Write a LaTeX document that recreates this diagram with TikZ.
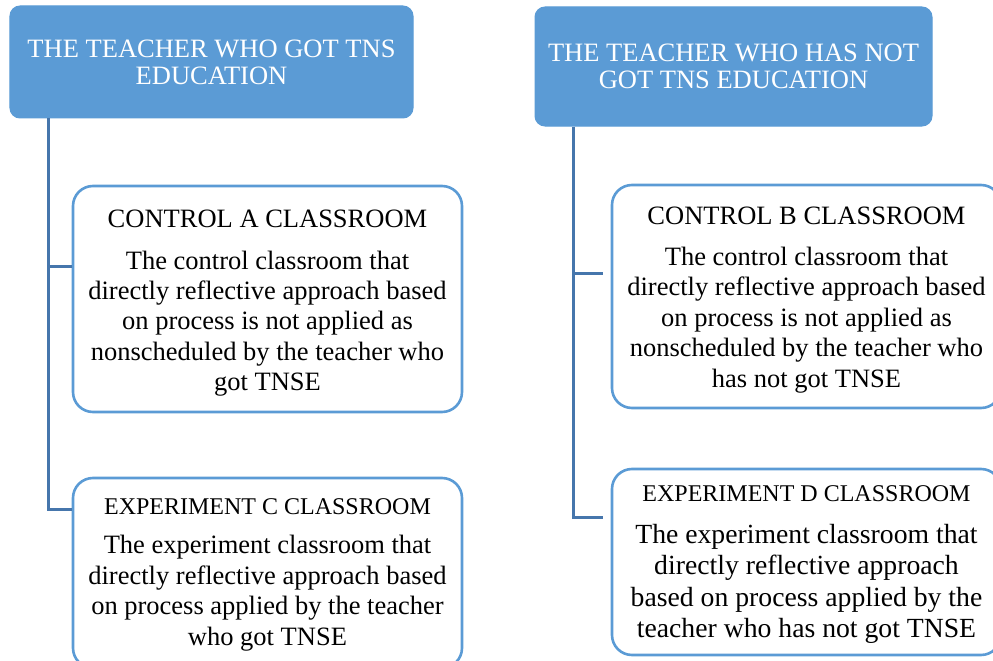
\documentclass[tikz,border=0pt]{standalone}
\usepackage{fontspec}
\setmainfont{Liberation Serif}
\definecolor{hdrblue}{RGB}{91,155,213}
\definecolor{bordblue}{RGB}{91,155,213}
\definecolor{connblue}{RGB}{70,118,172}
\tikzset{
  hdrbox/.style={draw=hdrblue, fill=hdrblue, line width=1bp, rounded corners=10bp, inner sep=0pt},
  classbox/.style={draw=bordblue, fill=white, line width=2.6bp, rounded corners=20bp, inner sep=0pt},
  connline/.style={draw=connblue, line width=3bp},
  hdrtext/.style={inner sep=0pt, align=center, text=white, font=\fontsize{26.5bp}{27bp}\selectfont},
  ttlbig/.style={inner sep=0pt, font=\fontsize{26.5bp}{30bp}\selectfont},
  ttlsmall/.style={inner sep=0pt, font=\fontsize{24bp}{30bp}\selectfont},
  bodytext/.style={inner sep=0pt, align=center},
}
\begin{document}
\begin{tikzpicture}[x=1bp,y=-1bp]
\useasboundingbox (0,0) rectangle (993,661);
\clip (0,0) rectangle (993,661);
% header boxes
\node (hL) [hdrbox, minimum width=403bp, minimum height=112bp] at (211.5,62) {};
\node (hR) [hdrbox, minimum width=397bp, minimum height=119bp] at (733.5,66.5) {};
% class boxes
\node (ca) [classbox, minimum width=389bp, minimum height=226bp] at (267.5,299) {};
\node (ec) [classbox, minimum width=389bp, minimum height=190bp] at (267.5,573) {};
\node (cb) [classbox, minimum width=389bp, minimum height=223bp] at (806.5,296.5) {};
\node (ed) [classbox, minimum width=389bp, minimum height=186bp] at (806.5,562) {};
% connectors
\coordinate (jl) at (48,0);
\coordinate (jr) at (573,0);
\draw[connline] (hL.south -| jl) |- (ec.west |- 0,509);
\draw[connline] (jl |- 0,266) -- (ca.west |- 0,266);
\draw[connline] (hR.south -| jr) |- ([xshift=-8bp]ed.west |- 0,517);
\draw[connline] (jr |- 0,273) -- ([xshift=-8bp]cb.west |- 0,273);
% header texts
\node (hLt) [hdrtext, anchor=north] at (211.5,39.5) {THE TEACHER WHO GOT TNS\\EDUCATION};
\node (hRt) [hdrtext, anchor=north] at (733.5,43.5) {THE TEACHER WHO HAS NOT\\GOT TNS EDUCATION};
% control A
\node (caT) [ttlbig, anchor=base] at (267.5,227) {CONTROL A CLASSROOM};
\node (caB) [bodytext, anchor=north, font=\fontsize{26.5bp}{30.2bp}\selectfont] at (267.5,250.9)
  {The control classroom that\\directly reflective approach based\\on process is not applied as\\nonscheduled by the teacher who\\got TNSE};
% experiment C
\node (ecT) [ttlsmall, anchor=base] at (267.5,514) {EXPERIMENT C CLASSROOM};
\node (ecB) [bodytext, anchor=north, font=\fontsize{26.5bp}{30.7bp}\selectfont] at (267.5,534.9)
  {The experiment classroom that\\directly reflective approach based\\on process applied by the teacher\\who got TNSE};
% control B
\node (cbT) [ttlbig, anchor=base] at (806.5,224) {CONTROL B CLASSROOM};
\node (cbB) [bodytext, anchor=north, font=\fontsize{26.5bp}{30.5bp}\selectfont] at (806.5,246.9)
  {The control classroom that\\directly reflective approach based\\on process is not applied as\\nonscheduled by the teacher who\\has not got TNSE};
% experiment D
\node (edT) [ttlsmall, anchor=base] at (806.5,501) {EXPERIMENT D CLASSROOM};
\node (edB) [bodytext, anchor=north, font=\fontsize{27.7bp}{31.3bp}\selectfont] at (806.5,524.1)
  {The experiment classroom that\\directly reflective approach\\based on process applied by the\\teacher who has not got TNSE};
\end{tikzpicture}
\end{document}
